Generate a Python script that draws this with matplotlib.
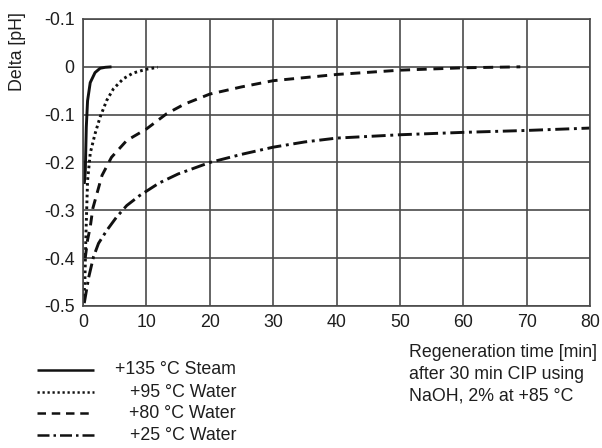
import matplotlib
matplotlib.use("Agg")
import matplotlib.pyplot as plt
from matplotlib.lines import Line2D

plt.rcParams['font.family'] = ['Liberation Sans', 'DejaVu Sans']

# Data (x: minutes, y: delta pH)
steam_x = [0.2, 0.36, 0.52, 0.72, 1.14, 1.9, 2.7, 3.5, 4.5]
steam_y = [-0.245, -0.22, -0.126, -0.071, -0.033, -0.012, -0.003, -0.001, 0.0]

w95_x = [0.15, 0.3, 0.45, 0.72, 1.15, 1.9, 2.7, 3.75, 4.8, 6.35, 7.9, 10.0, 11.8]
w95_y = [-0.48, -0.446, -0.356, -0.238, -0.18, -0.14, -0.105, -0.07, -0.046, -0.025,
         -0.013, -0.005, -0.001]

w80_x = [0.35, 0.72, 1.14, 1.55, 2.2, 3.0, 4.5, 6.9, 10, 11.8, 13.2, 16, 20, 25, 30,
         40, 50, 60, 69]
w80_y = [-0.40, -0.362, -0.335, -0.296, -0.265, -0.227, -0.189, -0.154, -0.13, -0.112,
         -0.098, -0.078, -0.057, -0.042, -0.029, -0.016, -0.007, -0.002, 0.0]

w25_x = [0.2, 0.9, 1.66, 2.45, 3.75, 5.3, 6.9, 8.95, 12, 15, 20, 25, 30, 35, 40, 50,
         60, 70, 80]
w25_y = [-0.494, -0.44, -0.397, -0.369, -0.342, -0.314, -0.29, -0.269, -0.243, -0.224,
         -0.20, -0.183, -0.168, -0.157, -0.149, -0.142, -0.137, -0.133, -0.128]

labels = ['+135 °C Steam', '+95 °C Water', '+80 °C Water', '+25 °C Water']
x_ticks = [0, 10, 20, 30, 40, 50, 60, 70, 80]
y_ticks = [0.1, 0.0, -0.1, -0.2, -0.3, -0.4, -0.5]
y_tick_labels = ['-0.1', '0', '-0.1', '-0.2', '-0.3', '-0.4', '-0.5']
x_note = 'Regeneration time [min]\nafter 30 min CIP using\nNaOH, 2% at +85 °C'
y_label = 'Delta [pH]'

fs = 12.8
fig = plt.figure(figsize=(6.02, 4.48), dpi=100)
ax = fig.add_axes([83/602, 1 - 306/448, (590 - 83)/602, (306 - 19)/448])

grid_c = '#4a4a4a'
txt_c = '#1e1e1e'
lw = 2.1
styles = [
    dict(linestyle='-'),
    dict(linestyle=(0, (0.9, 1.1))),
    dict(linestyle=(0, (3.4, 2.3))),
    dict(linestyle=(0, (4.8, 1.6, 1.0, 1.6))),
]
series = [(steam_x, steam_y), (w95_x, w95_y), (w80_x, w80_y), (w25_x, w25_y)]
for (xs, ys), st in zip(series, styles):
    ax.plot(xs, ys, color='#111111', lw=lw, solid_capstyle='butt',
            dash_capstyle='butt', solid_joinstyle='round', **st)

ax.set_xlim(0, 80)
ax.set_ylim(-0.5, 0.1)
ax.set_xticks(x_ticks)
ax.set_yticks(y_ticks)
ax.set_yticklabels(y_tick_labels)
ax.grid(True, color=grid_c, lw=1.2)
ax.set_axisbelow(True)
for s in ax.spines.values():
    s.set_color(grid_c)
    s.set_linewidth(1.2)
ax.tick_params(length=0, labelsize=fs, pad=6, colors=txt_c)

fig.text(17/602, 1 - 52/448, y_label, rotation=90, ha='center', va='center',
         fontsize=fs, color=txt_c)

fig.text(409/602, 1 - 344/448, x_note, ha='left', va='top', fontsize=fs,
         color=txt_c, linespacing=1.38)

rows_y = [370, 392, 413, 435]
for lab, st, ry in zip(labels, styles, rows_y):
    yf = 1 - ry/448
    fig.add_artist(Line2D([37/602, 94/602], [yf, yf], color='#111111', lw=1.8,
                          dash_capstyle='butt', solid_capstyle='butt',
                          transform=fig.transFigure, **st))
    fig.text(236/602, yf, lab, ha='right', va='center', fontsize=fs, color=txt_c)

fig.savefig('out.png', dpi=100, facecolor='white')
